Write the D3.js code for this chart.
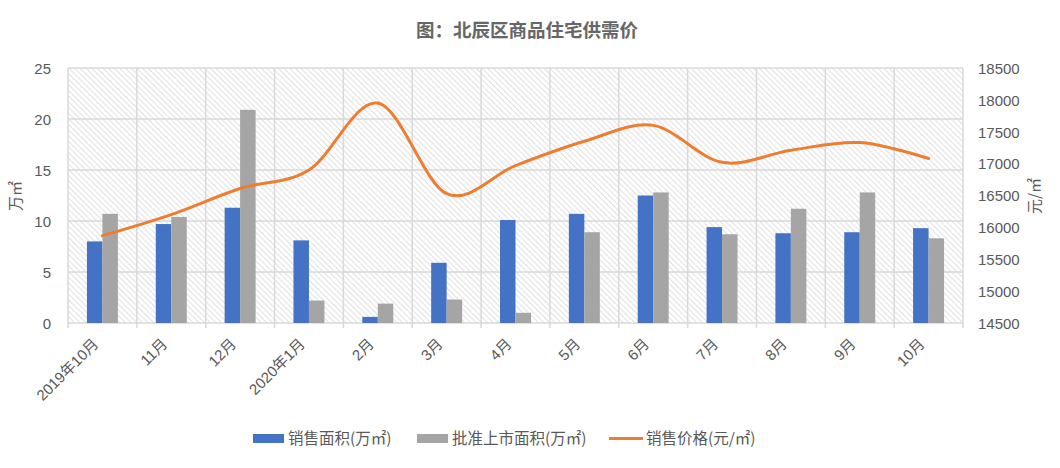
<!DOCTYPE html>
<html><head><meta charset="utf-8">
<script src="https://cdn.jsdelivr.net/npm/d3@7"></script>
<style>
body{margin:0;background:#fff;}
text{font-family:"Noto Sans CJK SC","Liberation Sans",sans-serif;}
</style></head>
<body><svg id="c" width="1060" height="468"></svg>
<script>
const categories = ["2019年10月","11月","12月","2020年1月","2月","3月","4月","5月","6月","7月","8月","9月","10月"];
const salesArea = [8.0, 9.7, 11.3, 8.1, 0.6, 5.9, 10.1, 10.7, 12.5, 9.4, 8.8, 8.9, 9.3];
const supplyArea = [10.7, 10.4, 20.9, 2.2, 1.9, 2.3, 1.0, 8.9, 12.8, 8.7, 11.2, 12.8, 8.3];
const salesPrice = [15870, 16200, 16610, 16900, 17950, 16530, 16970, 17350, 17600, 17020, 17210, 17330, 17080];
const leftTicks = [0, 5, 10, 15, 20, 25];
const rightTicks = [14500, 15000, 15500, 16000, 16500, 17000, 17500, 18000, 18500];
const seriesNames = ["销售面积(万㎡)", "批准上市面积(万㎡)", "销售价格(元/㎡)"];
const colors = ["#4472C4", "#A5A5A5", "#ED7D31"];

const svg = d3.select("#c");
const L = 68, R = 963, T = 68, B = 323;
const textColor = "#595959", gridColor = "#d9d9d9";

const defs = svg.append("defs");
const pat = defs.append("pattern").attr("id","hatch").attr("patternUnits","userSpaceOnUse")
  .attr("width",4).attr("height",4).attr("patternTransform","rotate(-45)");
pat.append("rect").attr("width",4).attr("height",4).attr("fill","#fff");
pat.append("line").attr("x1",0).attr("y1",0).attr("x2",0).attr("y2",4).attr("stroke","#d2d2d2").attr("stroke-width",1.3);

const x = d3.scaleBand().domain(categories).range([L, R]).padding(0);
const x1 = d3.scaleBand().domain([0,1]).range([x.bandwidth()*0.275, x.bandwidth()*0.725]).padding(0);
const yL = d3.scaleLinear().domain([0,25]).range([B, T]);
const yR = d3.scaleLinear().domain([14500,18500]).range([B, T]);

svg.append("rect").attr("x",L).attr("y",T).attr("width",R-L).attr("height",B-T).attr("fill","url(#hatch)");

// grid
const g = svg.append("g");
g.selectAll("line.h").data(leftTicks).join("line")
  .attr("x1",L).attr("x2",R).attr("y1",d=>yL(d)).attr("y2",d=>yL(d))
  .attr("stroke",gridColor).attr("stroke-width",1.5);
const bounds = categories.map(c=>x(c)).concat([R]);
g.selectAll("line.v").data(bounds).join("line")
  .attr("x1",d=>d).attr("x2",d=>d).attr("y1",T).attr("y2",B+5)
  .attr("stroke",gridColor).attr("stroke-width",1.5);

// bars
const barData = [];
categories.forEach((c,i)=>{
  barData.push({c, s:0, v:salesArea[i]});
  barData.push({c, s:1, v:supplyArea[i]});
});
svg.append("g").selectAll("rect").data(barData).join("rect")
  .attr("x",d=>x(d.c)+x1(d.s)).attr("width",x1.bandwidth())
  .attr("y",d=>yL(d.v)).attr("height",d=>B-yL(d.v))
  .attr("fill",d=>colors[d.s]);

// line
const line = d3.line().x((d,i)=>x(categories[i])+x.bandwidth()/2).y(d=>yR(d)).curve(d3.curveCardinal.tension(0));
svg.append("path").datum(salesPrice).attr("d",line).attr("fill","none")
  .attr("stroke",colors[2]).attr("stroke-width",3).attr("stroke-linecap","round");

// axes
const axL = svg.append("g").attr("transform",`translate(${L-17},0)`)
  .call(d3.axisLeft(yL).tickValues(leftTicks).tickSize(0).tickPadding(0));
const axR = svg.append("g").attr("transform",`translate(${R+15},0)`)
  .call(d3.axisRight(yR).tickValues(rightTicks).tickFormat(d3.format("d")).tickSize(0).tickPadding(0));
const axB = svg.append("g").attr("transform",`translate(0,${B})`)
  .call(d3.axisBottom(x).tickSize(0).tickPadding(0));
[axL,axR,axB].forEach(a=>{
  a.select(".domain").remove();
  a.selectAll("text").attr("fill",textColor).style("font-size","15px")
    .style("font-family","'Liberation Sans','Noto Sans CJK SC',sans-serif");
});
axL.selectAll("text").attr("dy","0.35em").attr("x",0);
axR.selectAll("text").attr("dy","0.35em");
axB.selectAll("text").attr("text-anchor","end").attr("dy","0")
  .attr("transform",function(){return "translate(-3,22) rotate(-45)";})
  .attr("y",0).attr("x",0).style("font-size","15px");

// axis titles
svg.append("text").attr("transform",`translate(21,196) rotate(-90)`).attr("text-anchor","middle")
  .attr("fill",textColor).style("font-size","15px").text("万㎡");
svg.append("text").attr("transform",`translate(1040,196) rotate(-90)`).attr("text-anchor","middle")
  .attr("fill",textColor).style("font-size","15px").text("元/㎡");

// title
svg.append("text").attr("x",527).attr("y",37).attr("text-anchor","middle")
  .attr("fill","#666").style("font-size","18.5px").style("font-weight","bold").text("图：北辰区商品住宅供需价");

// legend
const lg = svg.append("g");
const items = [{x:253, t:"rect"},{x:417, t:"rect"},{x:609, t:"line"}];
items.forEach((it,i)=>{
  if(it.t==="rect") lg.append("rect").attr("x",it.x).attr("y",434).attr("width",31).attr("height",9).attr("fill",colors[i]);
  else lg.append("line").attr("x1",it.x).attr("x2",it.x+34).attr("y1",438.5).attr("y2",438.5).attr("stroke",colors[i]).attr("stroke-width",3);
  lg.append("text").attr("x",it.x+(it.t==="rect"?35:37)).attr("y",444).attr("fill",textColor)
    .style("font-size","15.5px").text(seriesNames[i]);
});
</script></body></html>
